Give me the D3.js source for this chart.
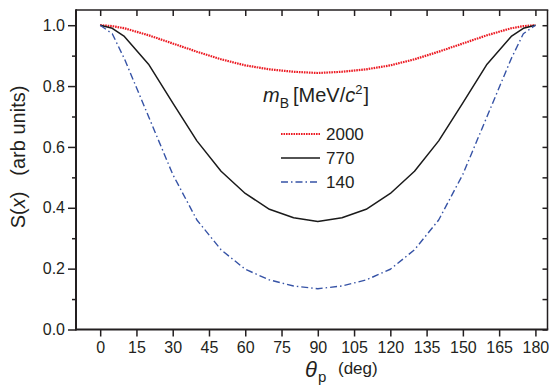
<!DOCTYPE html>
<html>
<head>
<meta charset="utf-8">
<script src="https://cdn.jsdelivr.net/npm/d3@7"></script>
<style>
  html, body { margin: 0; padding: 0; background: #fff; }
  svg { display: block; font-family: "Liberation Sans", Arial, sans-serif; }
  .axis text { fill: #231f20; font-size: 16px; font-family: "Liberation Sans", Arial, sans-serif; }
  .axis line, .axis path { stroke: #231f20; }
</style>
</head>
<body>
<svg id="chart" width="549" height="389"></svg>
<script>
// Scattering angle of the proton (deg)
const theta = [0, 5, 10, 20, 30, 40, 50, 60, 70, 80, 90, 100, 110, 120, 130, 140, 150, 160, 170, 175, 180];

// S(x) for each boson mass m_B [MeV/c^2]
const s2000 = [1.0, 0.997, 0.99, 0.967, 0.94, 0.913, 0.888, 0.868, 0.855, 0.847, 0.843,
               0.847, 0.855, 0.868, 0.888, 0.913, 0.94, 0.967, 0.99, 0.997, 1.0];
const s770  = [1.0, 0.99, 0.963, 0.872, 0.745, 0.62, 0.52, 0.447, 0.395, 0.367, 0.355,
               0.367, 0.395, 0.447, 0.52, 0.62, 0.745, 0.872, 0.963, 0.99, 1.0];
const s140  = [1.0, 0.972, 0.89, 0.70, 0.51, 0.36, 0.262, 0.198, 0.163, 0.143, 0.134,
               0.143, 0.163, 0.198, 0.262, 0.36, 0.51, 0.70, 0.89, 0.972, 1.0];

const seriesNames = ["2000", "770", "140"];

// Tick labels
const xTicks = [0, 15, 30, 45, 60, 75, 90, 105, 120, 135, 150, 165, 180];
const yTicks = [0.0, 0.2, 0.4, 0.6, 0.8, 1.0];
const yMinorTicks = [0.1, 0.3, 0.5, 0.7, 0.9];

const svg = d3.select("#chart");
const plotL = 76, plotR = 547.5, plotT = 10, plotB = 329.5;

const x = d3.scaleLinear().domain([-10, 185]).range([plotL, plotR]);
const y = d3.scaleLinear().domain([0, 1.05]).range([plotB, plotT]);

const ink = "#231f20";

// Bottom axis with labels
svg.append("g").attr("class", "axis")
  .attr("transform", `translate(0,${plotB})`)
  .call(d3.axisBottom(x).tickValues(xTicks).tickFormat(d3.format("d"))
        .tickSize(7).tickSizeOuter(0).tickPadding(5))
  .call(g => g.select(".domain").remove())
  .call(g => g.selectAll("line").attr("stroke-width", 1.5));

// Top axis, ticks pointing inward
svg.append("g").attr("class", "axis")
  .attr("transform", `translate(0,${plotT})`)
  .call(d3.axisBottom(x).tickValues(xTicks).tickFormat("").tickSize(6).tickSizeOuter(0))
  .call(g => g.select(".domain").remove())
  .call(g => g.selectAll("line").attr("stroke-width", 1.5));

// Left axis, major ticks with labels
svg.append("g").attr("class", "axis")
  .attr("transform", `translate(${plotL},0)`)
  .call(d3.axisLeft(y).tickValues(yTicks).tickFormat(d3.format(".1f"))
        .tickSize(8).tickSizeOuter(0).tickPadding(3))
  .call(g => g.select(".domain").remove())
  .call(g => g.selectAll("line").attr("stroke-width", 1.5));

// Left axis, minor ticks
svg.append("g").attr("class", "axis")
  .attr("transform", `translate(${plotL},0)`)
  .call(d3.axisLeft(y).tickValues(yMinorTicks).tickFormat("").tickSize(4).tickSizeOuter(0))
  .call(g => g.select(".domain").remove())
  .call(g => g.selectAll("line").attr("stroke-width", 1.5));

// Right axis, ticks pointing inward
svg.append("g").attr("class", "axis")
  .attr("transform", `translate(${plotR},0)`)
  .call(d3.axisLeft(y).tickValues(yTicks.concat(yMinorTicks)).tickFormat("").tickSize(5).tickSizeOuter(0))
  .call(g => g.select(".domain").remove())
  .call(g => g.selectAll("line").attr("stroke-width", 1.5));

// Frame
svg.append("line").attr("x1", plotL).attr("x2", plotR + 0.75).attr("y1", plotT).attr("y2", plotT)
  .attr("stroke", ink).attr("stroke-width", 1.5);
svg.append("line").attr("x1", plotR).attr("x2", plotR).attr("y1", plotT).attr("y2", plotB)
  .attr("stroke", ink).attr("stroke-width", 1.5);
svg.append("line").attr("x1", plotL).attr("x2", plotR + 0.75).attr("y1", plotB).attr("y2", plotB)
  .attr("stroke", ink).attr("stroke-width", 2);
svg.append("line").attr("x1", plotL).attr("x2", plotL).attr("y1", plotT - 0.75).attr("y2", plotB + 1)
  .attr("stroke", ink).attr("stroke-width", 2);

// Curves
const styles = [
  { values: s2000, color: "#ec1c24", width: 2.2, dash: "1.6,0.9" },
  { values: s770,  color: "#1a1a1a", width: 1.5, dash: null },
  { values: s140,  color: "#3653a6", width: 1.4, dash: "7,3,1.5,3" }
];

const line = d3.line().x(d => x(d[0])).y(d => y(d[1]));

styles.forEach(s => {
  const pts = theta.map((t, i) => [t, s.values[i]]);
  svg.append("path").datum(pts)
    .attr("d", line)
    .attr("fill", "none")
    .attr("stroke", s.color)
    .attr("stroke-width", s.width)
    .attr("stroke-linejoin", "round")
    .attr("stroke-dasharray", s.dash);
});

// Legend
const legTitle = svg.append("text").attr("x", 263).attr("y", 102)
  .attr("fill", ink).attr("font-size", 20);
legTitle.append("tspan").attr("font-style", "italic").text("m");
legTitle.append("tspan").attr("font-size", 14).attr("dy", 6).text("B");
legTitle.append("tspan").attr("dy", -6).attr("dx", 4).text("[MeV/");
legTitle.append("tspan").attr("font-style", "italic").text("c");
legTitle.append("tspan").attr("font-size", 13).attr("dy", -8).text("2");
legTitle.append("tspan").attr("dy", 8).attr("dx", 1).text("]");

const legRows = [134, 158, 182];
styles.forEach((s, i) => {
  svg.append("line")
    .attr("x1", 281).attr("x2", 320)
    .attr("y1", legRows[i]).attr("y2", legRows[i])
    .attr("stroke", s.color).attr("stroke-width", s.width)
    .attr("stroke-dasharray", s.dash);
  svg.append("text").attr("x", 326).attr("y", legRows[i] + 6)
    .attr("fill", ink).attr("font-size", 17).text(seriesNames[i]);
});

// X axis title
const xt = svg.append("text").attr("x", 305).attr("y", 377).attr("fill", ink);
xt.append("tspan").attr("font-size", 22).attr("font-style", "italic").text("θ");
xt.append("tspan").attr("font-size", 15).attr("dy", 5).attr("dx", 1).text("p");
svg.append("text").attr("x", 338).attr("y", 374).attr("fill", ink)
  .attr("font-size", 17).text("(deg)");

// Y axis title
const yt = svg.append("text")
  .attr("transform", "translate(25,157) rotate(-90)")
  .attr("text-anchor", "middle")
  .attr("fill", ink).attr("font-size", 20);
yt.append("tspan").text("S(");
yt.append("tspan").attr("font-style", "italic").text("x");
yt.append("tspan").text(")");
yt.append("tspan").attr("dx", 16).text("(arb units)");
</script>
</body>
</html>
